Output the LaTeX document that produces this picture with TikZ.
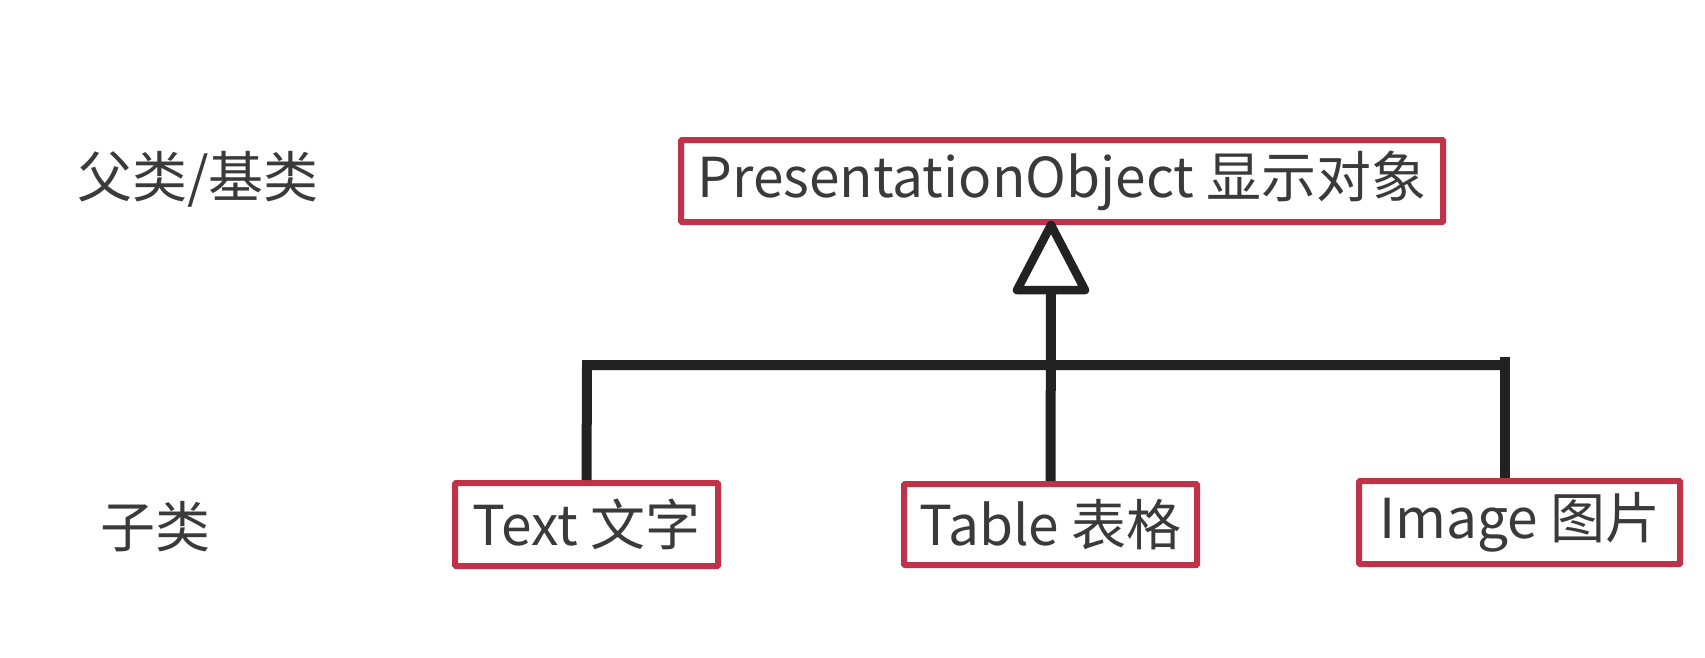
\documentclass[tikz,border=0pt]{standalone}
\usepackage{fontspec}
\setmainfont{Noto Sans CJK SC}
\definecolor{boxred}{RGB}{192,50,72}
\definecolor{txtgray}{RGB}{58,58,58}
\definecolor{linedark}{RGB}{34,34,34}
\begin{document}
\begin{tikzpicture}[x=1pt,y=-1pt,
  cls/.style={draw=boxred,line width=6pt,fill=white,inner sep=0pt,text=txtgray,
     font=\fontsize{55}{60}\selectfont,rounded corners=1pt},
  lbl/.style={text=txtgray,font=\fontsize{55}{60}\selectfont,inner sep=0pt},
  conn/.style={draw=linedark,line width=10pt},
  tri/.style={draw=linedark,line width=8.5pt,line join=round,fill=white}]
\useasboundingbox[fill=white] (0,0) rectangle (1705,657);
\node[cls,minimum width=762pt,minimum height=82pt] (parent) at (1062,181) {PresentationObject 显示对象};
\node[cls,minimum width=263pt,minimum height=83pt] (txt) at (586.5,524.5) {Text 文字};
\node[cls,minimum width=293pt,minimum height=81pt] (tbl) at (1050.5,524.5) {Table 表格};
\node[cls,minimum width=321pt,minimum height=83pt] (img) at (1519.5,522.5) {Image 图片};
\node[lbl] (base) at (198,179) {父类/基类};
\node[lbl] (sub) at (155,527) {子类};
\coordinate (apex) at (1051,225);
\coordinate (tbase) at (1051,290);
\coordinate (tl) at (587,365);
\coordinate (tr) at (1505,365);
\draw[conn] (tbase) -- (tbl.north);
\draw[conn,line join=miter] (txt.north) -- (tl) -- (tr);
\draw[conn] ([yshift=8pt]tr) -- (tr |- img.north);
\draw[tri] (apex) -- (1085,290) -- (1017,290) -- cycle;
\end{tikzpicture}
\end{document}
